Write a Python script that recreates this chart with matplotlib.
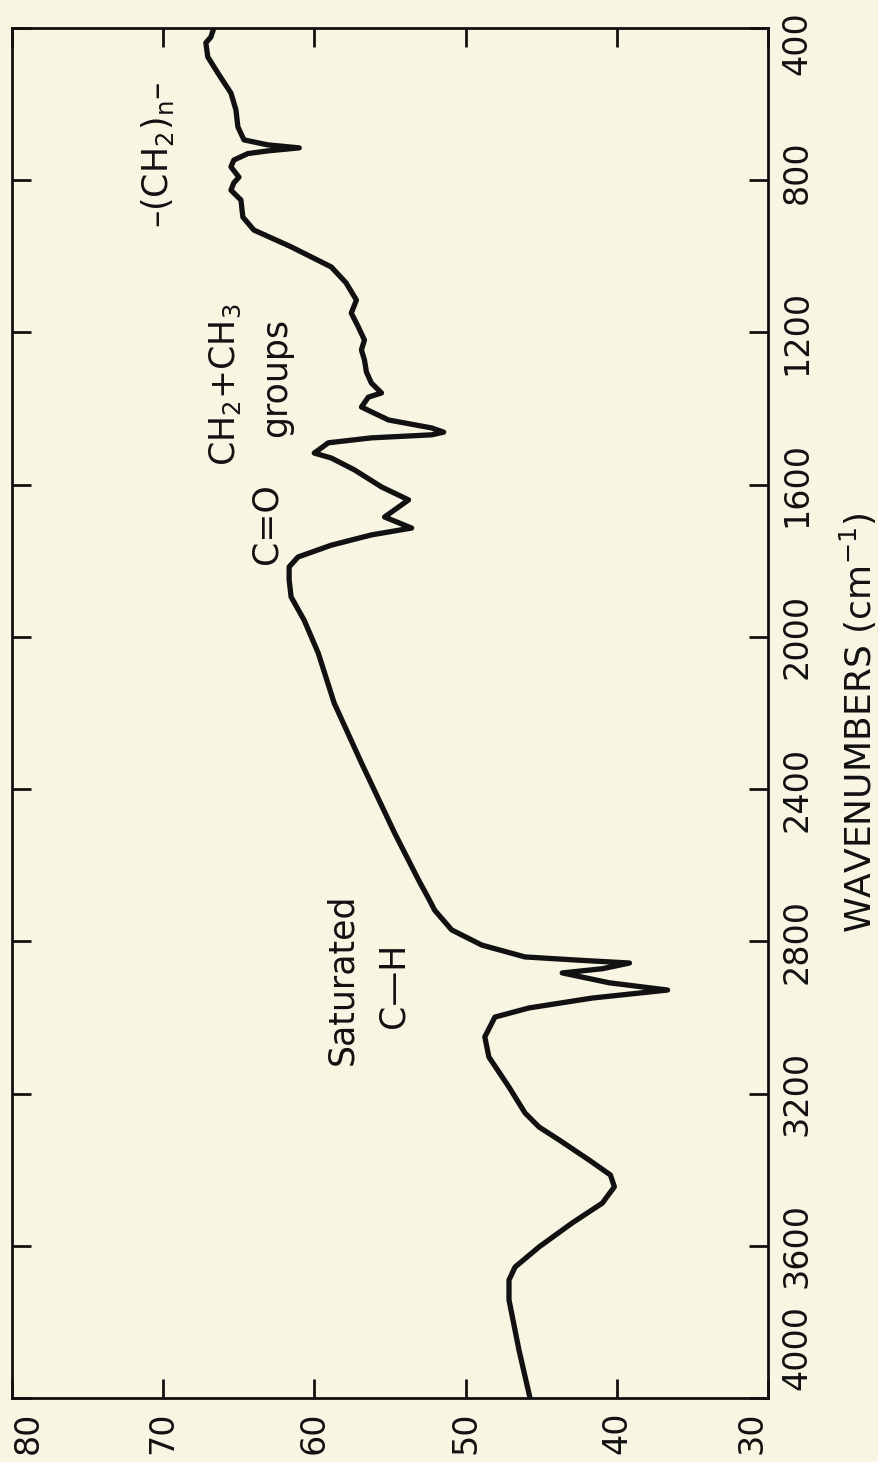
import matplotlib
matplotlib.use("Agg")
import matplotlib.pyplot as plt
from matplotlib.transforms import ScaledTranslation

plt.rcParams['font.family'] = ['DejaVu Sans']
plt.rcParams['mathtext.default'] = 'regular'

# ---- data ----
wavenumber = [400, 424, 439, 476, 518, 571, 615, 660, 694, 707, 715, 723, 730, 747,
              765, 792, 807, 826, 852, 897, 931, 975, 1028, 1070, 1115, 1149, 1186,
              1220, 1246, 1272, 1304, 1333, 1359, 1370, 1396, 1430, 1451, 1462, 1469,
              1477, 1490, 1517, 1530, 1561, 1606, 1640, 1685, 1714, 1732, 1759, 1790,
              1816, 1850, 1895, 1956, 2042, 2174, 2331, 2515, 2639, 2691, 2718, 2770,
              2810, 2841, 2849, 2857, 2872, 2883, 2909, 2928, 2949, 2975, 2999, 3051,
              3104, 3183, 3251, 3288, 3322, 3375, 3414, 3445, 3488, 3540, 3603, 3656,
              3690, 3742, 3874, 4000]
transmittance = [66.65, 66.85, 67.18, 67.05, 66.39, 65.52, 65.19, 65.06, 64.66, 63.1,
                 61.0, 63.1, 64.4, 65.33, 65.52, 64.99, 65.33, 65.52, 64.86, 64.73,
                 64.0, 61.54, 58.88, 57.9, 57.22, 57.56, 57.09, 56.69, 56.89, 56.69,
                 56.56, 56.23, 55.56, 56.43, 56.89, 55.10, 52.24, 51.45, 52.24, 56.23,
                 59.08, 60.01, 58.88, 57.36, 55.56, 53.77, 55.36, 53.57, 56.23, 58.88,
                 61.08, 61.67, 61.67, 61.54, 60.68, 59.75, 58.69, 56.89, 54.70, 53.11,
                 52.4, 52.05, 50.92, 48.92, 46.07, 42.75, 39.16, 40.96, 43.61, 40.49,
                 36.64, 41.62, 45.80, 48.06, 48.73, 48.46, 47.13, 46.07, 45.14, 43.81,
                 41.82, 40.42, 40.16, 40.96, 42.95, 45.14, 46.73, 47.13, 47.13, 46.47,
                 45.74]

t_ticks = [80, 70, 60, 50, 40, 30]
wn_ticks = [400, 800, 1200, 1600, 2000, 2400, 2800, 3200, 3600, 4000]

annotations = [
    (r'–(CH$_2$)$_n$–', 70.4, 733),
    (r'CH$_2$+CH$_3$', 65.9, 1338),
    ('groups', 62.5, 1317),
    ('C=O', 63.2, 1703),
    ('Saturated', 58.15, 2899),
    ('C—H', 54.8, 2915),
]

# ---- figure ----
bg = '#f8f6e3'
ink = '#111111'
fig = plt.figure(figsize=(8.79, 14.62), dpi=100, facecolor=bg)
ax = fig.add_axes([12 / 879, 64 / 1462, 756 / 879, 1370 / 1462], facecolor=bg)

ax.plot(transmittance, wavenumber, color=ink, lw=3.8,
        solid_joinstyle='round', solid_capstyle='round')

ax.set_xlim(80, 30)
ax.set_ylim(4000, 400)

for s in ax.spines.values():
    s.set_linewidth(2.0)
    s.set_color(ink)

ax.set_xticks(t_ticks)
ax.set_xticklabels([str(v) for v in t_ticks], rotation=90, fontsize=24)
ax.set_yticks(wn_ticks)
ax.set_yticklabels([str(v) for v in wn_ticks], rotation=90, fontsize=24)
ax.tick_params(axis='both', direction='in', length=14, width=2.0, color=ink,
               labelcolor=ink, top=True, right=True, left=True, bottom=True,
               labelleft=False, labelright=True, labeltop=False, labelbottom=True)
ax.tick_params(axis='x', pad=10)
ax.tick_params(axis='y', pad=9)

xl = ax.get_xticklabels()
xl[0].set_ha('left')
xl[-1].set_ha('right')

# vertical pixel offsets of the printed wavenumber labels (positive = up)
label_shift_px = {400: -15, 800: 8, 4000: 50}
yl = ax.get_yticklabels()
for v, lab in zip(wn_ticks, yl):
    lab.set_ha('left')
    lab.set_va('center')
    if v in label_shift_px:
        lab.set_transform(lab.get_transform() +
                          ScaledTranslation(0, label_shift_px[v] / 100.0,
                                            fig.dpi_scale_trans))

ax.set_ylabel(r'WAVENUMBERS (cm$^{-1}$)', fontsize=26, rotation=90, color=ink)
ax.yaxis.set_label_position('right')
ax.yaxis.set_label_coords(1.119, 0.493)
ax.yaxis.label.set_ha('center')
ax.yaxis.label.set_va('center')

for txt, tv, wv in annotations:
    ax.text(tv, wv, txt, rotation=90, ha='center', va='center',
            fontsize=25, color=ink)

fig.savefig('out.png', dpi=100, facecolor=bg)
